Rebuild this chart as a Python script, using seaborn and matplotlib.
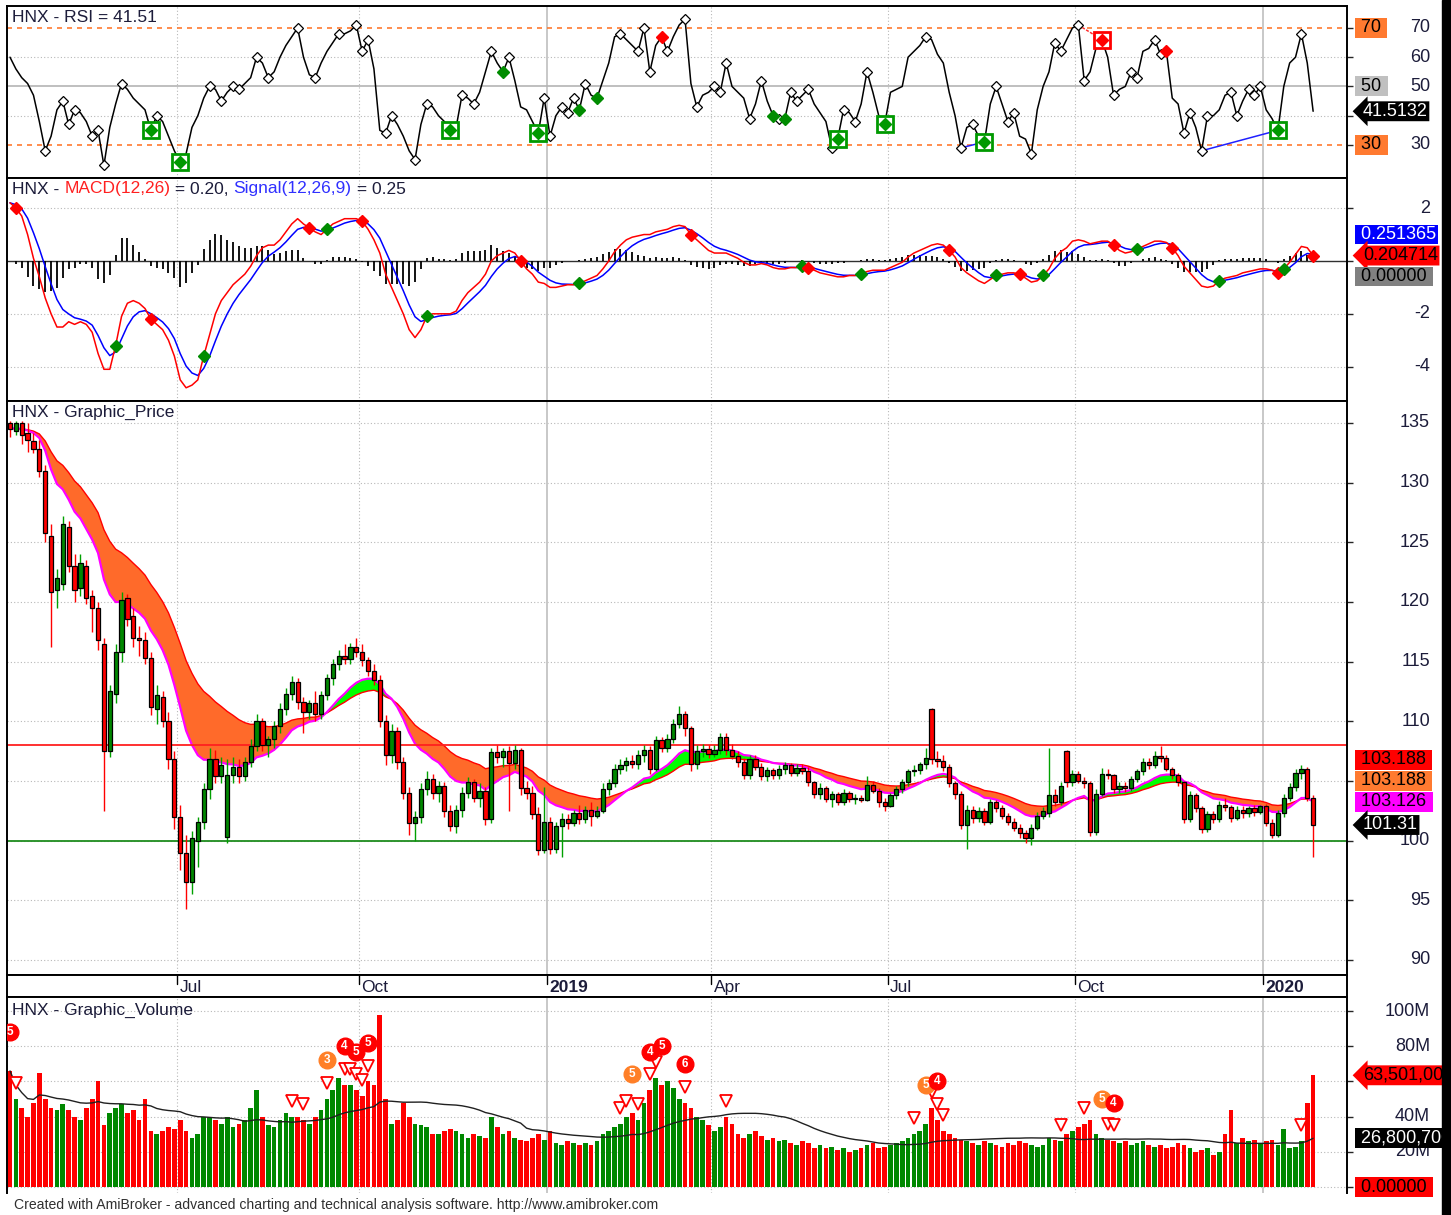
import numpy as np
import pandas as pd
import matplotlib
matplotlib.use('Agg')
import matplotlib.pyplot as plt
import seaborn as sns
from matplotlib.transforms import blended_transform_factory, ScaledTranslation
from matplotlib.patches import Rectangle

# HNX index, 2-day bars, Apr 2018 - Jan 2020
open_ = [135.0, 134.3, 135.0, 134.2, 133.5, 132.8, 131.0, 125.5, 121.0, 121.5,
         126.3, 123.0, 121.2, 123.0, 120.5, 119.5, 116.5, 107.5, 112.3, 115.8,
         120.3, 118.8, 117.0, 116.8, 115.3, 111.0, 112.0, 110.0, 106.8, 102.0,
         99.0, 96.5, 100.0, 101.6, 104.3, 106.8, 105.4, 100.3, 105.5, 106.2,
         105.4, 106.6, 107.9, 110.0, 108.0, 108.5, 109.6, 111.0, 112.3, 113.3,
         111.6, 110.8, 111.5, 110.6, 112.2, 113.6, 114.8, 115.5, 115.2, 116.2,
         115.8, 115.1, 114.2, 113.5, 110.0, 107.2, 109.2, 106.6, 104.0, 101.5,
         102.0, 104.3, 105.2, 104.0, 104.6, 102.5, 101.2, 102.6, 104.0, 104.9,
         103.6, 104.2, 101.8, 107.4, 107.0, 107.5, 106.5, 107.6, 104.4, 104.0,
         102.2, 99.2, 101.6, 99.3, 101.2, 101.8, 101.5, 102.3, 101.8, 102.6,
         102.1, 102.5, 104.3, 104.8, 106.0, 106.3, 106.7, 106.4, 107.2, 107.6,
         106.0, 108.4, 107.8, 108.5, 109.8, 110.6, 109.4, 106.4, 107.5, 107.7,
         107.3, 107.6, 108.7, 107.6, 107.1, 106.6, 105.5, 106.8, 106.2, 105.4,
         105.9, 105.5, 106.0, 106.3, 105.7, 106.1, 105.8, 104.9, 103.9, 104.4,
         103.5, 103.9, 103.2, 104.0, 103.5, 103.6, 103.4, 104.7, 104.2, 103.2,
         102.9, 103.8, 104.3, 104.9, 105.8, 105.9, 106.4, 111.0, 106.8, 106.7,
         106.2, 104.8, 103.9, 101.3, 102.6, 101.9, 102.5, 101.6, 103.2, 102.7,
         102.1, 101.6, 101.1, 100.6, 100.2, 101.1, 102.1, 102.3, 103.8, 103.2,
         107.5, 104.9, 105.6, 105.0, 104.8, 100.7, 103.9, 105.6, 105.5, 104.3,
         104.6, 104.4, 105.2, 105.8, 106.6, 106.3, 107.1, 106.9, 106.0, 105.5,
         104.9, 101.8, 103.8, 102.7, 101.0, 102.2, 101.8, 103.0, 102.8, 101.9,
         102.6, 102.3, 102.7, 102.4, 102.9, 101.5, 100.5, 102.3, 103.6, 104.5,
         105.7, 106.0, 103.6]
high = [135.2, 135.2, 135.2, 135.0, 134.2, 133.6, 131.5, 126.5, 122.8, 127.2,
        126.8, 124.0, 124.0, 123.5, 121.0, 120.0, 117.0, 113.0, 116.5, 120.8,
        120.7, 119.5, 118.0, 117.5, 115.8, 113.0, 112.5, 110.8, 107.5, 103.0,
        100.5, 100.8, 102.0, 104.8, 107.8, 107.6, 107.0, 106.8, 107.0, 106.8,
        107.0, 108.5, 110.6, 110.3, 108.8, 110.0, 111.5, 112.8, 113.8, 113.6,
        112.0, 111.8, 112.5, 112.5, 114.0, 115.2, 116.0, 116.5, 116.6, 117.0,
        116.5, 115.4, 114.8, 113.9, 110.5, 109.8, 109.5, 107.0, 104.5, 102.5,
        104.8, 105.8, 105.6, 105.0, 104.9, 103.0, 103.0, 104.5, 105.3, 105.2,
        104.8, 104.5, 107.8, 108.0, 107.8, 107.9, 108.0, 107.8, 105.0, 104.6,
        102.8, 104.5, 102.0, 101.6, 102.3, 102.2, 102.6, 103.0, 102.9, 103.2,
        102.9, 104.8, 105.2, 106.4, 106.8, 107.0, 107.2, 107.6, 108.0, 107.9,
        108.8, 108.7, 108.9, 110.2, 111.3, 110.9, 109.6, 108.0, 108.1, 108.0,
        108.0, 109.0, 109.0, 108.1, 107.5, 106.9, 107.2, 107.2, 106.5, 106.2,
        106.1, 106.3, 106.6, 106.5, 106.4, 106.4, 106.2, 105.0, 104.8, 104.6,
        104.2, 104.1, 104.3, 104.2, 103.9, 103.8, 105.4, 105.0, 104.4, 103.6,
        104.0, 104.6, 105.2, 106.0, 106.3, 106.6, 107.8, 111.1, 107.5, 107.2,
        106.4, 105.0, 104.2, 103.0, 102.9, 102.8, 102.7, 103.5, 103.4, 103.0,
        102.3, 101.9, 101.4, 100.9, 101.4, 102.4, 102.8, 107.8, 104.3, 104.9,
        107.6, 105.9, 105.8, 105.3, 105.0, 104.3, 106.1, 106.0, 105.6, 104.9,
        104.9, 105.4, 106.0, 106.9, 106.9, 107.5, 107.9, 107.2, 106.2, 105.7,
        105.0, 104.2, 104.0, 102.9, 102.5, 102.5, 103.3, 103.6, 103.0, 102.9,
        102.9, 102.9, 103.0, 103.0, 103.1, 101.8, 102.6, 103.9, 104.8, 106.0,
        106.3, 106.2, 103.8]
low = [133.8, 134.0, 133.2, 132.6, 132.5, 130.5, 125.0, 116.2, 119.5, 121.0,
       122.5, 120.0, 120.5, 119.8, 117.5, 116.0, 102.5, 107.0, 111.5, 115.0,
       118.0, 116.2, 115.5, 114.8, 110.5, 109.8, 109.5, 106.0, 101.0, 97.5,
       94.3, 95.5, 97.8, 101.0, 103.5, 104.8, 104.8, 99.8, 104.8, 104.8,
       105.0, 106.2, 107.5, 107.5, 107.0, 107.8, 109.0, 110.5, 111.8, 111.0,
       109.0, 110.2, 110.0, 110.2, 111.8, 113.0, 114.3, 114.8, 114.8, 115.4,
       114.6, 113.8, 113.0, 109.5, 106.3, 106.5, 106.0, 103.5, 100.5, 100.0,
       101.5, 103.8, 103.5, 103.2, 102.0, 100.8, 100.6, 102.0, 103.6, 103.2,
       102.8, 101.3, 101.5, 106.5, 106.2, 102.5, 106.0, 103.8, 103.5, 101.8,
       98.8, 99.0, 98.9, 99.0, 98.6, 101.0, 101.2, 101.4, 101.5, 101.2,
       101.9, 102.3, 103.8, 104.5, 105.6, 105.8, 106.1, 106.0, 106.6, 105.6,
       105.8, 107.4, 107.4, 108.2, 109.4, 108.8, 105.8, 106.0, 107.0, 106.9,
       107.0, 107.3, 107.2, 106.8, 106.2, 105.2, 105.2, 105.9, 105.1, 105.0,
       105.2, 105.2, 105.6, 105.4, 105.4, 105.6, 104.6, 103.6, 103.5, 103.2,
       102.8, 103.0, 103.0, 103.2, 103.1, 103.2, 103.3, 104.0, 102.8, 102.5,
       102.8, 103.5, 104.0, 104.6, 105.4, 105.6, 106.0, 106.4, 106.2, 105.8,
       104.5, 103.5, 101.0, 99.3, 101.5, 101.6, 101.3, 101.4, 102.4, 101.8,
       101.3, 100.8, 100.2, 99.8, 99.6, 100.9, 101.8, 102.0, 102.9, 103.0,
       104.5, 104.6, 104.8, 104.4, 100.4, 100.5, 103.7, 105.2, 104.0, 104.0,
       104.1, 104.2, 104.9, 105.5, 106.0, 106.1, 106.6, 105.8, 105.2, 104.6,
       101.5, 101.6, 102.4, 100.6, 100.7, 101.5, 101.6, 102.5, 101.6, 101.7,
       101.9, 102.0, 102.1, 102.2, 101.2, 100.2, 100.3, 102.0, 103.3, 104.2,
       105.2, 103.3, 98.6]
close = [134.5, 135.0, 134.0, 133.6, 132.8, 131.0, 125.8, 120.8, 122.0, 126.5,
         123.0, 121.0, 123.3, 120.3, 119.5, 116.8, 107.5, 112.5, 115.8, 120.2,
         118.6, 117.0, 116.8, 115.3, 111.2, 112.2, 110.0, 106.8, 102.0, 99.0,
         96.5, 100.2, 101.6, 104.3, 106.8, 105.4, 106.3, 105.5, 106.2, 105.4,
         106.6, 107.9, 110.0, 108.0, 108.5, 109.6, 111.0, 112.3, 113.3, 111.6,
         110.8, 111.5, 110.6, 112.2, 113.6, 114.8, 115.5, 115.2, 116.2, 115.8,
         115.1, 114.2, 113.5, 110.0, 107.2, 109.2, 106.6, 104.0, 101.5, 102.0,
         104.3, 105.2, 104.0, 104.6, 102.5, 101.2, 102.6, 104.0, 104.9, 103.6,
         104.2, 101.8, 107.4, 107.0, 107.5, 106.5, 107.6, 104.4, 104.0, 102.2,
         99.2, 101.6, 99.3, 101.2, 101.8, 101.5, 102.3, 101.8, 102.6, 102.1,
         102.5, 104.3, 104.8, 106.0, 106.3, 106.7, 106.4, 107.2, 107.6, 106.0,
         108.4, 107.8, 108.5, 109.8, 110.6, 109.4, 106.4, 107.5, 107.7, 107.3,
         107.6, 108.7, 107.6, 107.1, 106.6, 105.5, 106.8, 106.2, 105.4, 105.9,
         105.5, 106.0, 106.3, 105.7, 106.1, 105.8, 104.9, 103.9, 104.4, 103.5,
         103.9, 103.2, 104.0, 103.5, 103.6, 103.4, 104.7, 104.2, 103.2, 102.9,
         103.8, 104.3, 104.9, 105.8, 105.9, 106.4, 106.9, 106.8, 106.7, 106.2,
         104.8, 103.9, 101.3, 102.6, 101.9, 102.5, 101.6, 103.2, 102.7, 102.1,
         101.6, 101.1, 100.6, 100.2, 101.1, 102.1, 102.5, 103.8, 103.2, 104.6,
         104.9, 105.6, 105.0, 104.8, 100.7, 103.9, 105.6, 105.5, 104.3, 104.6,
         104.4, 105.2, 105.8, 106.6, 106.3, 107.1, 106.9, 106.0, 105.5, 104.9,
         101.8, 103.8, 102.7, 101.0, 102.2, 101.8, 103.0, 102.8, 101.9, 102.6,
         102.3, 102.7, 102.4, 102.9, 101.5, 100.5, 102.3, 103.6, 104.5, 105.7,
         106.0, 103.6, 101.31]
# volume in millions of shares
volume = [66, 50, 45, 40, 48, 65, 50, 45, 44, 47,
          44, 40, 38, 45, 50, 60, 35, 42, 45, 47,
          42, 44, 38, 50, 32, 30, 32, 34, 33, 38,
          32, 28, 30, 40, 40, 38, 36, 40, 34, 36,
          38, 45, 55, 40, 35, 34, 38, 42, 40, 40,
          38, 36, 40, 44, 50, 55, 62, 58, 58, 55,
          52, 60, 58, 98, 50, 36, 38, 48, 40, 36,
          35, 34, 30, 30, 32, 33, 32, 30, 28, 30,
          29, 28, 40, 34, 30, 32, 28, 27, 26, 28,
          30, 27, 32, 25, 24, 26, 25, 24, 25, 24,
          26, 30, 32, 34, 36, 40, 42, 38, 48, 55,
          62, 58, 60, 56, 50, 48, 45, 40, 38, 35,
          32, 34, 40, 36, 30, 28, 30, 32, 29, 27,
          28, 26, 27, 25, 24, 26, 25, 22, 24, 22,
          23, 21, 22, 20, 21, 22, 24, 25, 22, 23,
          24, 25, 26, 28, 30, 32, 36, 45, 38, 32,
          30, 28, 27, 26, 25, 24, 26, 25, 24, 23,
          25, 24, 26, 25, 24, 23, 24, 28, 27, 26,
          30, 32, 34, 36, 38, 30, 28, 27, 26, 25,
          26, 24, 25, 26, 24, 23, 24, 22, 23, 25,
          24, 22, 20, 21, 22, 18, 20, 30, 44, 25,
          28, 26, 27, 25, 26, 27, 24, 33, 22, 23,
          26, 48, 63.501]
rsi = [60, 56, 53, 51, 47, 38, 28, 33, 42, 45,
       37, 42, 41, 38, 33, 35, 23, 36, 44, 51,
       49, 46, 44, 42, 35, 40, 38, 33, 28, 24,
       27, 36, 40, 46, 50, 49, 45, 48, 50, 49,
       51, 53, 60, 58, 53, 55, 60, 64, 67, 70,
       60, 54, 53, 58, 62, 65, 68, 68, 69, 71,
       62, 66, 56, 35, 34, 40, 37, 33, 28, 25,
       37, 44, 43, 40, 38, 35, 36, 47, 46, 44,
       48, 55, 62, 58, 55, 60, 52, 43, 42, 38,
       34, 46, 33, 40, 43, 41, 46, 42, 51, 47,
       46, 52, 58, 67, 68, 66, 64, 62, 70, 55,
       64, 67, 62, 67, 71, 73, 51, 43, 47, 48,
       50, 48, 58, 50, 48, 46, 39, 44, 52, 45,
       40, 39, 39, 48, 45, 47, 49, 44, 41, 38,
       29, 32, 42, 41, 38, 44, 55, 48, 40, 37,
       48, 49, 50, 60, 62, 64, 67, 66, 61, 58,
       48, 40, 29, 36, 37, 33, 31, 44, 50, 44,
       38, 41, 33, 32, 27, 42, 50, 55, 65, 62,
       66, 70, 71, 52, 55, 63, 66, 60, 47, 49,
       50, 55, 53, 62, 63, 66, 61, 62, 46, 44,
       34, 41, 36, 28, 40, 40, 42, 47, 48, 40,
       45, 49, 47, 50, 42, 39, 35, 50, 58, 60,
       68, 58, 41.5132]
macd = [2.2, 2.0, 1.7, 1.0, 0.1, -0.6, -1.4, -2.0, -2.5, -2.5,
        -2.3, -2.4, -2.3, -2.4, -2.7, -3.5, -4.1, -4.1, -3.2, -2.1,
        -1.6, -1.5, -1.6, -1.8, -2.2, -2.4, -2.6, -3.0, -3.6, -4.5,
        -4.8, -4.7, -4.5, -3.6, -2.8, -2.0, -1.5, -1.2, -0.9, -0.7,
        -0.5, -0.2, 0.2, 0.5, 0.6, 0.6, 0.8, 1.1, 1.4, 1.6,
        1.4, 1.25, 1.1, 1.0, 1.2, 1.4, 1.5, 1.6, 1.6, 1.6,
        1.5, 1.2, 0.8, 0.3, -0.5, -1.0, -1.5, -2.0, -2.6, -2.9,
        -2.6, -2.1, -2.0, -2.0, -2.0, -2.0, -1.9, -1.5, -1.2, -1.0,
        -0.8, -0.5, 0.0, 0.2, 0.3, 0.4, 0.3, 0.0, -0.3, -0.5,
        -0.8, -0.85, -1.0, -1.0, -0.95, -0.9, -0.9, -0.85, -0.75, -0.65,
        -0.55, -0.3, 0.0, 0.35, 0.6, 0.8, 0.9, 0.95, 1.0, 1.0,
        1.1, 1.15, 1.2, 1.3, 1.35, 1.3, 1.0, 0.8, 0.6, 0.4,
        0.3, 0.3, 0.3, 0.2, 0.1, -0.05, -0.15, -0.15, -0.1, -0.15,
        -0.25, -0.3, -0.3, -0.25, -0.25, -0.2, -0.25, -0.35, -0.45, -0.5,
        -0.55, -0.6, -0.6, -0.55, -0.55, -0.5, -0.4, -0.35, -0.35, -0.35,
        -0.25, -0.15, -0.05, 0.15, 0.3, 0.4, 0.5, 0.6, 0.65, 0.6,
        0.4, 0.15, -0.25, -0.45, -0.6, -0.75, -0.85, -0.7, -0.55, -0.5,
        -0.45, -0.45, -0.5, -0.65, -0.8, -0.75, -0.55, -0.3, 0.1, 0.35,
        0.5, 0.75, 0.8, 0.75, 0.65, 0.7, 0.75, 0.75, 0.6, 0.4,
        0.3, 0.35, 0.45, 0.55, 0.65, 0.75, 0.75, 0.7, 0.5, 0.2,
        -0.2, -0.45, -0.7, -0.95, -1.0, -0.95, -0.75, -0.65, -0.6, -0.55,
        -0.45, -0.4, -0.35, -0.3, -0.3, -0.35, -0.45, -0.3, -0.05, 0.25,
        0.55, 0.5, 0.204714]

# quarter boundaries (bar index) and their labels
quarter_bars = [28.5, 59.5, 91.5, 119.5, 149.5, 181.5, 213.5]
quarter_labels = ['Jul', 'Oct', '2019', 'Apr', 'Jul', 'Oct', '2020']

# signal bars
rsi_buy_box = [24, 29, 75, 90, 141, 149, 166, 216]
rsi_sell_box = [186]
rsi_buy_dot = [84, 97, 100, 130, 132]
rsi_sell_dot = [111, 197]
rsi_div_blue = [(162, 166), (203, 216)]
rsi_div_red = [(182, 186)]
vol_alert_bars = [1, 48, 50, 54, 57, 58, 59, 60, 61, 104, 105, 107, 109, 110,
                  115, 122, 154, 157, 158, 159, 179, 183, 187, 188, 220]
vol_count_bars = [0, 54, 57, 59, 61, 106, 109, 111, 115, 156, 158, 186, 188]
vol_count_labels = ['5', '3', '4', '5', '5', '5', '4', '5', '6', '5', '4', '5', '4']
vol_count_hot = [1, 0, 1, 1, 1, 0, 1, 1, 1, 0, 1, 0, 1]

sns.set_style('white')
plt.rcParams['font.family'] = ['Liberation Sans', 'DejaVu Sans']

W, H = 1451, 1215
fig = plt.figure(figsize=(W / 100, H / 100), dpi=100)


def rect(l, t, r, b):
    return [l / W, 1 - b / H, (r - l) / W, (b - t) / H]


n = len(close)
x = np.arange(n)
o = np.array(open_)
c = np.array(close)
up = c >= o
r = np.array(rsi)
m = pd.Series(macd)
signal = m.ewm(span=4.5, adjust=False).mean()
hist = m - signal
cs = pd.Series(close)
ema_fast = cs.ewm(span=14, adjust=False).mean().values
ema_slow = cs.ewm(span=27, adjust=False).mean().values
vol = np.array(volume)
vol_ma = pd.Series(volume).rolling(25, min_periods=1).mean()

XL = (-0.51, 227.77)
TXT = '#1C1C3A'
GRID = '#B8B8B8'
ORANGE = '#FF7A30'
DOT = (0, (1, 2))


def setup(ax, ylim, ticks, labels, grid):
    ax.set_xlim(*XL)
    ax.set_ylim(*ylim)
    ax.set_xticks([])
    ax.set_yticks(ticks)
    ax.yaxis.tick_right()
    ax.tick_params(axis='y', direction='out', length=4, width=1, labelright=False)
    for s in ax.spines.values():
        s.set_color('black')
        s.set_linewidth(1.4)
    tr = blended_transform_factory(fig.transFigure, ax.transData)
    for t, lab in zip(ticks, labels):
        if lab:
            ax.text(1430 / W, t, lab, transform=tr, ha='right', va='center',
                    fontsize=13, color=TXT, clip_on=False, zorder=5)
    for g in grid:
        ax.axhline(g, color=GRID, lw=0.8, ls=DOT, zorder=0)
    for q, lab in zip(quarter_bars, quarter_labels):
        year = lab.isdigit()
        ax.axvline(q, color='#C4C4C4' if year else GRID, lw=1.3 if year else 0.8,
                   ls='-' if year else DOT, zorder=0)


def value_box(ax, yval, text, fc, tc, arrow=False, dy=0):
    tr = blended_transform_factory(fig.transFigure, ax.transData)
    tr = tr + ScaledTranslation(0, dy / 100, fig.dpi_scale_trans)
    style = 'larrow,pad=0.08' if arrow else 'square,pad=0.08'
    ax.text((1363 if arrow else 1356) / W, yval, text, transform=tr, ha='left', va='center',
            fontsize=13, color=tc, clip_on=False, zorder=10,
            bbox=dict(boxstyle=style, fc=fc, ec='none'))


def title(xp, yp, parts, size=12.5):
    rend = fig.canvas.get_renderer()
    probe = fig.text(0, 0, 'X', fontsize=size)
    wx = probe.get_window_extent(rend).width
    probe.remove()
    prefix = ''
    for s, col in parts:
        w = 0
        if prefix:
            tmp = fig.text(0, 0, prefix + 'X', fontsize=size)
            w = tmp.get_window_extent(rend).width - wx
            tmp.remove()
        fig.text((xp + w) / W, 1 - yp / H, s, fontsize=size, color=col, ha='left', va='center')
        prefix += s


# ---------------- RSI ----------------
ax_rsi = fig.add_axes(rect(7, 6, 1347, 178))
setup(ax_rsi, (18.7, 77.5), [30, 40, 50, 60, 70], ['30', '', '50', '60', '70'], [40, 60])
ax_rsi.axhline(50, color='#B4B4B4', lw=1.2, zorder=0)
for lvl in (30, 70):
    ax_rsi.axhline(lvl, color=ORANGE, lw=1.2, ls=(0, (3, 3)), zorder=1)
sns.lineplot(x=x, y=r, ax=ax_rsi, color='black', lw=1.1, estimator=None, sort=False)
piv = [i for i in range(1, n - 1)
       if (r[i] > r[i - 1] and r[i] >= r[i + 1]) or (r[i] < r[i - 1] and r[i] <= r[i + 1])]
ax_rsi.plot(piv, r[piv], 'D', ms=5, mfc='white', mec='black', mew=0.9, zorder=4)
for a, b in rsi_div_blue:
    ax_rsi.plot([a, b], [r[a], r[b]], color='#2020FF', lw=1.1, zorder=3)
for a, b in rsi_div_red:
    ax_rsi.plot([a, b], [r[a], r[b]], color='#FF3030', lw=1.1, ls=(0, (2, 1)), zorder=3)
for i in rsi_buy_dot:
    ax_rsi.plot(i, r[i], 'D', ms=6, color='#008C00', zorder=5)
for i in rsi_sell_dot:
    ax_rsi.plot(i, r[i], 'D', ms=6, color='#FF0000', zorder=5)
for i in rsi_buy_box:
    ax_rsi.plot(i, r[i], 's', ms=12, mfc='white', mec='#009900', mew=2, zorder=5)
    ax_rsi.plot(i, r[i], 'D', ms=6, color='#009900', zorder=6)
for i in rsi_sell_box:
    ax_rsi.plot(i, r[i], 's', ms=12, mfc='white', mec='#FF0000', mew=2, zorder=5)
    ax_rsi.plot(i, r[i], 'D', ms=6, color='#FF0000', zorder=6)
value_box(ax_rsi, 70, ' 70 ', ORANGE, 'black')
value_box(ax_rsi, 50, ' 50 ', '#C0C0C0', 'black')
value_box(ax_rsi, 30, ' 30 ', ORANGE, 'black')
value_box(ax_rsi, r[-1], f'{r[-1]:.4f}', 'black', 'white', arrow=True)
title(12, 17, [('HNX - RSI = 41.51', TXT)])

# ---------------- MACD ----------------
ax_m = fig.add_axes(rect(7, 178, 1347, 401))
setup(ax_m, (-5.3, 3.14), [-4, -2, 0, 2], ['-4', '-2', '', '2'], [-4, -2, 2])
ax_m.axhline(0, color='#303030', lw=1, zorder=1)
ax_m.vlines(x, 0, hist, color='black', lw=1.3, zorder=2)
sns.lineplot(x=x, y=signal.values, ax=ax_m, color='#0000FF', lw=1.1, estimator=None, sort=False)
sns.lineplot(x=x, y=m.values, ax=ax_m, color='#FF0000', lw=1.1, estimator=None, sort=False)
sgn = np.sign(hist.values)
for i in range(1, n):
    if sgn[i] != 0 and sgn[i] != sgn[i - 1]:
        ax_m.plot(i, m[i], 'D', ms=6.5, color='#FF0000' if hist[i] < 0 else '#008C00', zorder=5)
value_box(ax_m, m.iloc[-1], ' 0.251365', '#0000FF', 'white', dy=21)
value_box(ax_m, m.iloc[-1], f'{m.iloc[-1]:.6f}', '#FF0000', 'black', arrow=True)
value_box(ax_m, m.iloc[-1], ' 0.00000 ', '#808080', 'black', dy=-21)
title(12, 189, [('HNX - ', TXT), ('MACD(12,26)', '#FF2020'), (' = 0.20, ', TXT),
                ('Signal(12,26,9)', '#3030FF'), (' = 0.25', TXT)])

# ---------------- Price ----------------
ax_p = fig.add_axes(rect(7, 401, 1347, 975))
pt = list(range(90, 136, 5))
setup(ax_p, (88.74, 136.84), pt, [str(v) if v != 105 else '' for v in pt], pt)
ax_p.fill_between(x, ema_fast, ema_slow, where=ema_fast >= ema_slow, interpolate=True,
                  color='#00FF00', lw=0, zorder=1)
ax_p.fill_between(x, ema_fast, ema_slow, where=ema_fast < ema_slow, interpolate=True,
                  color='#FF6A2A', lw=0, zorder=1)
sns.lineplot(x=x, y=ema_slow, ax=ax_p, color='#FF0000', lw=1, estimator=None, sort=False)
sns.lineplot(x=x, y=ema_fast, ax=ax_p, color='#FF00FF', lw=1.6, estimator=None, sort=False)
ax_p.axhline(108, color='#FF2020', lw=1.3, zorder=2)
ax_p.axhline(100, color='#1E8C1E', lw=1.3, zorder=2)
wick_col = np.where(up, '#00A000', '#FF0000')
ax_p.vlines(x, low, high, colors=wick_col, lw=1, zorder=3)
body_lo = np.minimum(o, c)
body_h = np.maximum(np.abs(c - o), 0.08)
ax_p.bar(x, body_h, bottom=body_lo, width=0.72, color=np.where(up, '#008800', '#FF0000'),
         edgecolor='black', linewidth=0.9, zorder=4)
value_box(ax_p, ema_fast[-1], ' 103.188 ', '#FF0000', 'black', dy=42)
value_box(ax_p, ema_fast[-1], ' 103.188 ', '#FF7A30', 'black', dy=21)
value_box(ax_p, ema_fast[-1], ' 103.126 ', '#FF00FF', 'black')
value_box(ax_p, c[-1], f'{c[-1]:.2f}', 'black', 'white', arrow=True)
title(12, 412, [('HNX - Graphic_Price', TXT)])

# ---------------- Date strip ----------------
ax_d = fig.add_axes(rect(7, 975, 1347, 997))
ax_d.set_xlim(*XL)
ax_d.set_ylim(0, 1)
ax_d.set_xticks([])
ax_d.set_yticks([])
for s in ax_d.spines.values():
    s.set_color('black')
    s.set_linewidth(1.4)
for q, lab in zip(quarter_bars, quarter_labels):
    ax_d.plot([q, q], [0.6, 1], color='black', lw=1)
    ax_d.text(q + 0.35, 0.42, lab, fontsize=12.5, color=TXT, va='center', ha='left',
              fontweight='bold' if lab.isdigit() else 'normal')

# ---------------- Volume ----------------
ax_v = fig.add_axes(rect(7, 997, 1347, 1193))
vt = [0, 20, 40, 60, 80, 100]
setup(ax_v, (-3.4, 108), vt, ['', '20M', '40M', '', '80M', '100M'], vt)
ax_v.spines['bottom'].set_visible(False)
ax_v.bar(x, vol, width=0.8, color=np.where(up, '#008800', '#FF0000'), lw=0, zorder=2)
sns.lineplot(x=x, y=vol_ma.values, ax=ax_v, color='#202020', lw=1, estimator=None, sort=False)
ax_v.plot(vol_alert_bars, vol[vol_alert_bars] + 9, 'v', ms=8.5, mfc='white', mec='#FF0000',
          mew=1.3, zorder=5)
for i, lab, hot in zip(vol_count_bars, vol_count_labels, vol_count_hot):
    col = '#FF0000' if hot else '#FF7F27'
    ax_v.plot(i, vol[i] + 22, 'o', ms=12, color=col, zorder=6)
    ax_v.text(i, vol[i] + 22, lab, color='white', fontsize=8.5, fontweight='bold',
              ha='center', va='center', zorder=7)
value_box(ax_v, vol[-1], '63,501,000', '#FF0000', 'black', arrow=True)
value_box(ax_v, vol_ma.iloc[-1], ' 26,800,700', 'black', 'white')
value_box(ax_v, 0, ' 0.00000 ', '#FF0000', 'black')
title(12, 1010, [('HNX - Graphic_Volume', TXT)])

fig.text(14 / W, 1 - 1205 / H,
         'Created with AmiBroker - advanced charting and technical analysis software. '
         'http://www.amibroker.com', fontsize=10.1, color='#303030', va='center', ha='left')
fig.add_artist(Rectangle((1442 / W, 0), 9 / W, 1, transform=fig.transFigure,
                         color='black', zorder=20))

fig.savefig('out.png', dpi=100)
